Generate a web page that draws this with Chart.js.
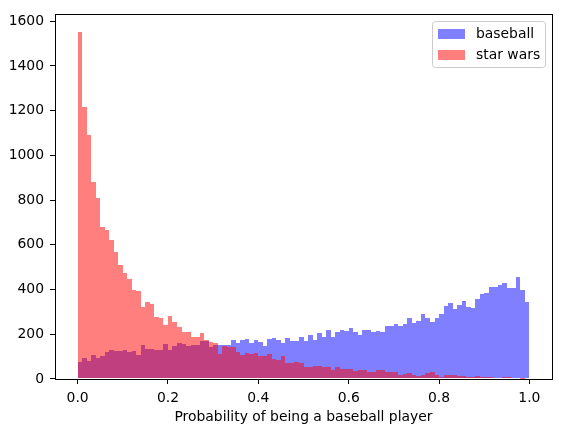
<!DOCTYPE html>
<html><head><meta charset="utf-8">
<script src="https://cdn.jsdelivr.net/npm/chart.js@4"></script>
<style>html,body{margin:0;padding:0;background:#fff;overflow:hidden}</style>
</head><body>
<canvas id="c" width="561" height="432"></canvas>
<script>
// Histogram bins: 100 bins on [0, 1]
const binStart = 0;
const binWidth = 0.01;
const binCount = 100;

const seriesLabels = ['baseball', 'star wars'];

const baseball = [
  75, 93, 80, 106, 93, 102, 120, 128, 124, 124,
  128, 120, 124, 106, 151, 133, 133, 128, 128, 155,
  128, 146, 160, 155, 146, 151, 151, 168, 168, 142,
  151, 151, 151, 151, 173, 160, 173, 177, 160, 173,
  164, 146, 177, 182, 173, 160, 182, 168, 168, 186,
  168, 199, 173, 204, 186, 221, 186, 208, 217, 213,
  226, 208, 195, 221, 217, 208, 213, 208, 235, 235,
  248, 239, 248, 275, 252, 261, 292, 275, 257, 275,
  292, 328, 341, 315, 332, 350, 323, 319, 359, 381,
  385, 412, 412, 421, 430, 408, 408, 456, 399, 346
];

const starWars = [
  1553, 1218, 1091, 882, 808, 679, 667, 622, 570, 512,
  473, 447, 398, 392, 323, 344, 335, 279, 275, 240,
  284, 253, 234, 209, 209, 186, 186, 204, 173, 164,
  160, 111, 146, 142, 142, 120, 106, 115, 111, 115,
  102, 102, 111, 89, 84, 102, 71, 71, 75, 71,
  53, 53, 58, 58, 53, 53, 40, 53, 44, 44,
  44, 35, 40, 40, 31, 31, 40, 40, 31, 31,
  31, 18, 22, 27, 18, 13, 18, 27, 31, 18,
  9, 18, 18, 18, 13, 13, 9, 9, 13, 9,
  9, 9, 4, 4, 9, 9, 4, 4, 2, 4
];

const xTickValues = [0, 0.2, 0.4, 0.6, 0.8, 1.0];
const yTickValues = [0, 200, 400, 600, 800, 1000, 1200, 1400, 1600];
const xTitle = 'Probability of being a baseball player';

const binCenters = Array.from({length: binCount}, (_, i) => binStart + binWidth * (i + 0.5));
const toPoints = arr => arr.map((v, i) => ({x: binCenters[i], y: v}));

const FONT = 'DejaVu Sans';
const FS = 13.9;

// Snap bar edges to whole pixels (like matplotlib) so adjacent bars share exact edges
const snapPlugin = {
  id: 'snapBars',
  beforeDatasetsDraw(chart) {
    const xs = chart.scales.x;
    const edgePx = k => Math.round(xs.getPixelForValue(binStart + k * binWidth));
    chart.getSortedVisibleDatasetMetas().forEach(meta => {
      meta.data.forEach((el, i) => {
        const l = edgePx(i);
        const r = edgePx(i + 1);
        el.x = (l + r) / 2;
        el.width = r - l;
        el.y = Math.round(el.y);
        el.base = Math.round(el.base);
      });
    });
  }
};

const framePlugin = {
  id: 'frame',
  afterDatasetsDraw(chart) {
    const {ctx, chartArea: a} = chart;
    ctx.save();
    ctx.strokeStyle = '#000';
    ctx.lineWidth = 1;
    ctx.strokeRect(Math.round(a.left) + 0.5, Math.round(a.top) + 0.5,
                   Math.round(a.right) - Math.round(a.left), Math.round(a.bottom) - Math.round(a.top));
    ctx.restore();
  }
};

const legendPlugin = {
  id: 'mplLegend',
  afterDraw(chart) {
    const {ctx, chartArea: a} = chart;
    const ds = chart.data.datasets;
    ctx.save();
    ctx.font = FS + 'px "' + FONT + '"';
    let maxW = 0;
    ds.forEach(d => { maxW = Math.max(maxW, ctx.measureText(d.label).width); });
    const w = 5.5 + 27 + 11 + maxW + 6;
    const h = 46;
    const right = Math.round(a.right - 7.5) + 0.5;
    const left = Math.round(right - w) + 0.5;
    const top = Math.round(a.top + 6.7) + 0.5;
    const ww = right - left;
    const r = 3;
    ctx.beginPath();
    ctx.moveTo(left + r, top);
    ctx.lineTo(left + ww - r, top);
    ctx.arcTo(left + ww, top, left + ww, top + r, r);
    ctx.lineTo(left + ww, top + h - r);
    ctx.arcTo(left + ww, top + h, left + ww - r, top + h, r);
    ctx.lineTo(left + r, top + h);
    ctx.arcTo(left, top + h, left, top + h - r, r);
    ctx.lineTo(left, top + r);
    ctx.arcTo(left, top, left + r, top, r);
    ctx.closePath();
    ctx.fillStyle = 'rgba(255,255,255,0.8)';
    ctx.fill();
    ctx.strokeStyle = '#cccccc';
    ctx.lineWidth = 1;
    ctx.stroke();
    ds.forEach((d, i) => {
      const sy = Math.round(top + 7 + i * 21);
      ctx.fillStyle = d.backgroundColor;
      ctx.fillRect(Math.round(left + 5.5), sy, 27, 10);
      ctx.fillStyle = '#000';
      ctx.textBaseline = 'middle';
      ctx.textAlign = 'left';
      ctx.fillText(d.label, left + 5.5 + 27 + 11, sy + 5);
    });
    ctx.restore();
  }
};

new Chart(document.getElementById('c'), {
  type: 'bar',
  data: {
    datasets: [
      { label: seriesLabels[0], data: toPoints(baseball), backgroundColor: 'rgba(0,0,255,0.5)', borderWidth: 0, inflateAmount: 0, order: 2 },
      { label: seriesLabels[1], data: toPoints(starWars), backgroundColor: 'rgba(255,0,0,0.5)', borderWidth: 0, inflateAmount: 0, order: 1 }
    ]
  },
  options: {
    responsive: false,
    animation: false,
    devicePixelRatio: 1,
    grouped: false,
    barPercentage: 1,
    categoryPercentage: 1,
    layout: { padding: { top: 9, right: 9, left: 0, bottom: 0 } },
    plugins: { legend: { display: false }, tooltip: { enabled: false } },
    scales: {
      x: {
        type: 'linear',
        offset: false,
        min: -0.05,
        max: 1.05,
        afterBuildTicks: s => { s.ticks = xTickValues.map(v => ({value: v})); },
        afterFit: s => { s.height = 53; },
        ticks: {
          color: '#000', padding: 6, maxRotation: 0, autoSkip: false,
          font: { family: FONT, size: FS },
          callback: v => Number(v).toFixed(1)
        },
        grid: { display: true, drawOnChartArea: false, drawTicks: true, tickLength: 5, color: '#000', offset: false },
        border: { display: false },
        title: { display: true, text: xTitle, color: '#000', font: { family: FONT, size: FS }, padding: { top: 0, bottom: 6 } }
      },
      y: {
        type: 'linear',
        min: 0,
        max: 1631,
        afterBuildTicks: s => { s.ticks = yTickValues.map(v => ({value: v})); },
        afterFit: s => { s.width = 55; },
        ticks: { color: '#000', padding: 6, font: { family: FONT, size: FS }, callback: v => String(v) },
        grid: { display: true, drawOnChartArea: false, drawTicks: true, tickLength: 5, color: '#000' },
        border: { display: false }
      }
    }
  },
  plugins: [snapPlugin, framePlugin, legendPlugin]
});
</script>
</body></html>
